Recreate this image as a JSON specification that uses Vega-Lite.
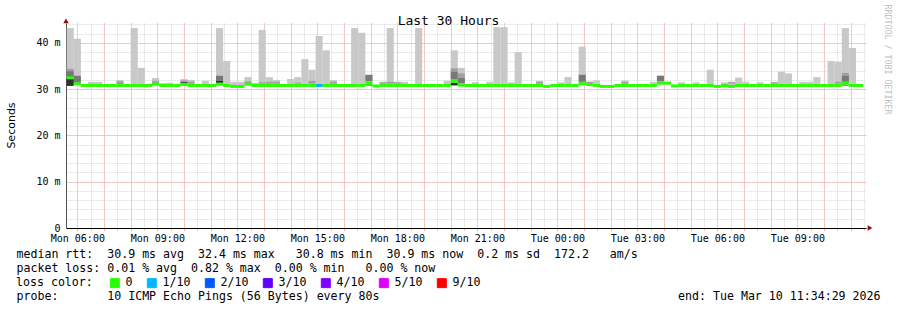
{
  "$schema": "https://vega.github.io/schema/vega-lite/v6.json",
  "width": 800,
  "height": 205,
  "autosize": "none",
  "padding": {"left": 66, "top": 23, "right": 31, "bottom": 82},
  "background": "#ffffff",
  "config": {"view": {"stroke": null}, "font": "DejaVu Sans Mono"},
  "datasets": {
    "bars": [
      {"t0":"2026-03-09T05:36:00Z","t1":"2026-03-09T05:52:00Z","med":32.45,"hi":43.2,"m0":33.9,"m1":34.4,"d0":32.6,"d1":33.9,"b0":30.7,"b1":32.3,"loss":"0"},
      {"t0":"2026-03-09T05:52:00Z","t1":"2026-03-09T06:08:00Z","med":31.15,"hi":40.9,"d0":31.4,"d1":32.9,"loss":"0"},
      {"t0":"2026-03-09T06:08:00Z","t1":"2026-03-09T06:24:00Z","med":30.8,"loss":"0"},
      {"t0":"2026-03-09T06:24:00Z","t1":"2026-03-09T06:40:00Z","med":30.8,"hi":31.6,"loss":"0"},
      {"t0":"2026-03-09T06:40:00Z","t1":"2026-03-09T06:56:00Z","med":30.8,"hi":31.6,"loss":"0"},
      {"t0":"2026-03-09T06:56:00Z","t1":"2026-03-09T07:12:00Z","med":30.8,"loss":"0"},
      {"t0":"2026-03-09T07:12:00Z","t1":"2026-03-09T07:28:00Z","med":30.8,"loss":"0"},
      {"t0":"2026-03-09T07:28:00Z","t1":"2026-03-09T07:44:00Z","med":30.8,"hi":32.0,"m0":31.1,"m1":31.7,"loss":"0"},
      {"t0":"2026-03-09T07:44:00Z","t1":"2026-03-09T08:00:00Z","med":30.8,"loss":"0"},
      {"t0":"2026-03-09T08:00:00Z","t1":"2026-03-09T08:16:00Z","med":30.8,"hi":43.2,"loss":"0"},
      {"t0":"2026-03-09T08:16:00Z","t1":"2026-03-09T08:32:00Z","med":30.8,"hi":34.6,"loss":"0"},
      {"t0":"2026-03-09T08:32:00Z","t1":"2026-03-09T08:48:00Z","med":30.8,"loss":"0"},
      {"t0":"2026-03-09T08:48:00Z","t1":"2026-03-09T09:04:00Z","med":31.1,"hi":32.4,"m0":31.4,"m1":31.8,"loss":"0"},
      {"t0":"2026-03-09T09:04:00Z","t1":"2026-03-09T09:20:00Z","med":30.8,"hi":31.3,"loss":"0"},
      {"t0":"2026-03-09T09:20:00Z","t1":"2026-03-09T09:36:00Z","med":30.8,"hi":31.4,"loss":"0"},
      {"t0":"2026-03-09T09:36:00Z","t1":"2026-03-09T09:52:00Z","med":30.8,"loss":"0"},
      {"t0":"2026-03-09T09:52:00Z","t1":"2026-03-09T10:08:00Z","med":31.0,"hi":32.2,"m0":31.5,"m1":31.9,"b0":31.3,"b1":31.5,"loss":"0"},
      {"t0":"2026-03-09T10:08:00Z","t1":"2026-03-09T10:24:00Z","med":30.8,"hi":32.0,"m0":31.2,"m1":31.6,"loss":"0"},
      {"t0":"2026-03-09T10:24:00Z","t1":"2026-03-09T10:40:00Z","med":30.8,"loss":"0"},
      {"t0":"2026-03-09T10:40:00Z","t1":"2026-03-09T10:56:00Z","med":30.8,"hi":31.8,"loss":"0"},
      {"t0":"2026-03-09T10:56:00Z","t1":"2026-03-09T11:12:00Z","med":30.8,"loss":"0"},
      {"t0":"2026-03-09T11:12:00Z","t1":"2026-03-09T11:28:00Z","med":31.1,"hi":43.2,"d0":31.8,"d1":32.9,"b0":31.3,"b1":31.8,"loss":"0"},
      {"t0":"2026-03-09T11:28:00Z","t1":"2026-03-09T11:44:00Z","med":30.8,"hi":36.1,"loss":"0"},
      {"t0":"2026-03-09T11:44:00Z","t1":"2026-03-09T12:00:00Z","med":30.6,"hi":31.6,"loss":"0"},
      {"t0":"2026-03-09T12:00:00Z","t1":"2026-03-09T12:16:00Z","med":30.6,"hi":31.6,"loss":"0"},
      {"t0":"2026-03-09T12:16:00Z","t1":"2026-03-09T12:32:00Z","med":31.1,"hi":32.6,"m0":31.4,"m1":31.7,"loss":"0"},
      {"t0":"2026-03-09T12:32:00Z","t1":"2026-03-09T12:48:00Z","med":30.8,"hi":31.35,"loss":"0"},
      {"t0":"2026-03-09T12:48:00Z","t1":"2026-03-09T13:04:00Z","med":30.8,"hi":42.8,"m0":31.2,"m1":31.5,"loss":"0"},
      {"t0":"2026-03-09T13:04:00Z","t1":"2026-03-09T13:20:00Z","med":30.8,"hi":32.6,"m0":31.2,"m1":31.6,"loss":"0"},
      {"t0":"2026-03-09T13:20:00Z","t1":"2026-03-09T13:36:00Z","med":30.8,"hi":32.0,"m0":31.2,"m1":31.6,"loss":"0"},
      {"t0":"2026-03-09T13:36:00Z","t1":"2026-03-09T13:52:00Z","med":30.8,"loss":"0"},
      {"t0":"2026-03-09T13:52:00Z","t1":"2026-03-09T14:08:00Z","med":30.8,"hi":32.2,"loss":"0"},
      {"t0":"2026-03-09T14:08:00Z","t1":"2026-03-09T14:24:00Z","med":30.8,"hi":32.6,"m0":31.2,"m1":31.4,"loss":"0"},
      {"t0":"2026-03-09T14:24:00Z","t1":"2026-03-09T14:40:00Z","med":30.8,"hi":36.5,"loss":"0"},
      {"t0":"2026-03-09T14:40:00Z","t1":"2026-03-09T14:56:00Z","med":30.8,"hi":34.2,"m0":31.2,"m1":31.8,"loss":"0"},
      {"t0":"2026-03-09T14:56:00Z","t1":"2026-03-09T15:12:00Z","med":30.8,"hi":41.5,"loss":"1/10"},
      {"t0":"2026-03-09T15:12:00Z","t1":"2026-03-09T15:28:00Z","med":30.8,"hi":38.4,"loss":"0"},
      {"t0":"2026-03-09T15:28:00Z","t1":"2026-03-09T15:44:00Z","med":30.8,"hi":32.0,"m0":31.2,"m1":31.6,"loss":"0"},
      {"t0":"2026-03-09T15:44:00Z","t1":"2026-03-09T16:00:00Z","med":30.8,"loss":"0"},
      {"t0":"2026-03-09T16:00:00Z","t1":"2026-03-09T16:16:00Z","med":30.8,"loss":"0"},
      {"t0":"2026-03-09T16:16:00Z","t1":"2026-03-09T16:32:00Z","med":30.8,"hi":43.2,"loss":"0"},
      {"t0":"2026-03-09T16:32:00Z","t1":"2026-03-09T16:48:00Z","med":30.8,"hi":42.2,"loss":"0"},
      {"t0":"2026-03-09T16:48:00Z","t1":"2026-03-09T17:04:00Z","med":31.25,"hi":33.1,"d0":31.7,"d1":33.1,"b0":30.8,"b1":31.0,"loss":"0"},
      {"t0":"2026-03-09T17:04:00Z","t1":"2026-03-09T17:20:00Z","med":30.7,"loss":"0"},
      {"t0":"2026-03-09T17:20:00Z","t1":"2026-03-09T17:36:00Z","med":30.8,"hi":31.6,"m0":31.2,"m1":31.5,"loss":"0"},
      {"t0":"2026-03-09T17:36:00Z","t1":"2026-03-09T17:52:00Z","med":30.8,"hi":43.2,"m0":31.2,"m1":31.6,"loss":"0"},
      {"t0":"2026-03-09T17:52:00Z","t1":"2026-03-09T18:08:00Z","med":30.8,"hi":31.6,"m0":31.2,"m1":31.5,"loss":"0"},
      {"t0":"2026-03-09T18:08:00Z","t1":"2026-03-09T18:24:00Z","med":30.8,"hi":31.6,"loss":"0"},
      {"t0":"2026-03-09T18:24:00Z","t1":"2026-03-09T18:40:00Z","med":30.8,"loss":"0"},
      {"t0":"2026-03-09T18:40:00Z","t1":"2026-03-09T18:56:00Z","med":30.8,"hi":43.2,"loss":"0"},
      {"t0":"2026-03-09T18:56:00Z","t1":"2026-03-09T19:12:00Z","med":30.8,"loss":"0"},
      {"t0":"2026-03-09T19:12:00Z","t1":"2026-03-09T19:28:00Z","med":30.8,"loss":"0"},
      {"t0":"2026-03-09T19:28:00Z","t1":"2026-03-09T19:44:00Z","med":30.8,"loss":"0"},
      {"t0":"2026-03-09T19:44:00Z","t1":"2026-03-09T20:00:00Z","med":30.8,"hi":31.8,"loss":"0"},
      {"t0":"2026-03-09T20:00:00Z","t1":"2026-03-09T20:16:00Z","med":31.7,"hi":38.4,"m0":33.8,"m1":34.5,"d0":32.1,"d1":33.8,"b0":30.8,"b1":31.4,"loss":"0"},
      {"t0":"2026-03-09T20:16:00Z","t1":"2026-03-09T20:32:00Z","med":30.9,"hi":34.6,"m0":32.4,"m1":33.4,"d0":31.3,"d1":32.4,"loss":"0"},
      {"t0":"2026-03-09T20:32:00Z","t1":"2026-03-09T20:48:00Z","med":30.8,"loss":"0"},
      {"t0":"2026-03-09T20:48:00Z","t1":"2026-03-09T21:04:00Z","med":30.8,"hi":31.5,"loss":"0"},
      {"t0":"2026-03-09T21:04:00Z","t1":"2026-03-09T21:20:00Z","med":30.8,"loss":"0"},
      {"t0":"2026-03-09T21:20:00Z","t1":"2026-03-09T21:36:00Z","med":30.8,"hi":31.6,"loss":"0"},
      {"t0":"2026-03-09T21:36:00Z","t1":"2026-03-09T21:52:00Z","med":30.8,"hi":43.4,"loss":"0"},
      {"t0":"2026-03-09T21:52:00Z","t1":"2026-03-09T22:08:00Z","med":30.8,"hi":43.4,"loss":"0"},
      {"t0":"2026-03-09T22:08:00Z","t1":"2026-03-09T22:24:00Z","med":30.8,"hi":31.5,"loss":"0"},
      {"t0":"2026-03-09T22:24:00Z","t1":"2026-03-09T22:40:00Z","med":30.8,"hi":38.0,"loss":"0"},
      {"t0":"2026-03-09T22:40:00Z","t1":"2026-03-09T22:56:00Z","med":30.8,"loss":"0"},
      {"t0":"2026-03-09T22:56:00Z","t1":"2026-03-09T23:12:00Z","med":30.8,"loss":"0"},
      {"t0":"2026-03-09T23:12:00Z","t1":"2026-03-09T23:28:00Z","med":30.8,"hi":31.8,"m0":31.2,"m1":31.6,"loss":"0"},
      {"t0":"2026-03-09T23:28:00Z","t1":"2026-03-09T23:44:00Z","med":30.6,"loss":"0"},
      {"t0":"2026-03-09T23:44:00Z","t1":"2026-03-10T00:00:00Z","med":30.8,"loss":"0"},
      {"t0":"2026-03-10T00:00:00Z","t1":"2026-03-10T00:16:00Z","med":30.8,"hi":31.5,"loss":"0"},
      {"t0":"2026-03-10T00:16:00Z","t1":"2026-03-10T00:32:00Z","med":30.8,"hi":32.6,"loss":"0"},
      {"t0":"2026-03-10T00:32:00Z","t1":"2026-03-10T00:48:00Z","med":30.8,"loss":"0"},
      {"t0":"2026-03-10T00:48:00Z","t1":"2026-03-10T01:04:00Z","med":31.2,"hi":39.2,"d0":31.6,"d1":33.1,"loss":"0"},
      {"t0":"2026-03-10T01:04:00Z","t1":"2026-03-10T01:20:00Z","med":31.0,"hi":31.6,"m0":31.3,"m1":31.6,"loss":"0"},
      {"t0":"2026-03-10T01:20:00Z","t1":"2026-03-10T01:36:00Z","med":30.8,"hi":31.9,"loss":"0"},
      {"t0":"2026-03-10T01:36:00Z","t1":"2026-03-10T01:52:00Z","med":30.6,"loss":"0"},
      {"t0":"2026-03-10T01:52:00Z","t1":"2026-03-10T02:08:00Z","med":30.6,"loss":"0"},
      {"t0":"2026-03-10T02:08:00Z","t1":"2026-03-10T02:24:00Z","med":30.8,"loss":"0"},
      {"t0":"2026-03-10T02:24:00Z","t1":"2026-03-10T02:40:00Z","med":30.8,"hi":31.9,"m0":31.2,"m1":31.6,"loss":"0"},
      {"t0":"2026-03-10T02:40:00Z","t1":"2026-03-10T02:56:00Z","med":30.8,"loss":"0"},
      {"t0":"2026-03-10T02:56:00Z","t1":"2026-03-10T03:12:00Z","med":30.8,"loss":"0"},
      {"t0":"2026-03-10T03:12:00Z","t1":"2026-03-10T03:28:00Z","med":30.8,"loss":"0"},
      {"t0":"2026-03-10T03:28:00Z","t1":"2026-03-10T03:44:00Z","med":30.8,"hi":31.6,"loss":"0"},
      {"t0":"2026-03-10T03:44:00Z","t1":"2026-03-10T04:00:00Z","med":31.3,"hi":32.9,"d0":31.7,"d1":32.9,"loss":"0"},
      {"t0":"2026-03-10T04:00:00Z","t1":"2026-03-10T04:16:00Z","med":31.3,"loss":"0"},
      {"t0":"2026-03-10T04:16:00Z","t1":"2026-03-10T04:32:00Z","med":30.7,"loss":"0"},
      {"t0":"2026-03-10T04:32:00Z","t1":"2026-03-10T04:48:00Z","med":30.8,"hi":31.5,"loss":"0"},
      {"t0":"2026-03-10T04:48:00Z","t1":"2026-03-10T05:04:00Z","med":30.8,"loss":"0"},
      {"t0":"2026-03-10T05:04:00Z","t1":"2026-03-10T05:20:00Z","med":30.8,"hi":31.5,"loss":"0"},
      {"t0":"2026-03-10T05:20:00Z","t1":"2026-03-10T05:36:00Z","med":30.8,"loss":"0"},
      {"t0":"2026-03-10T05:36:00Z","t1":"2026-03-10T05:52:00Z","med":30.8,"hi":34.2,"loss":"0"},
      {"t0":"2026-03-10T05:52:00Z","t1":"2026-03-10T06:08:00Z","med":30.6,"loss":"0"},
      {"t0":"2026-03-10T06:08:00Z","t1":"2026-03-10T06:24:00Z","med":30.8,"hi":31.5,"loss":"0"},
      {"t0":"2026-03-10T06:24:00Z","t1":"2026-03-10T06:40:00Z","med":30.6,"hi":31.6,"m0":31.2,"m1":31.5,"loss":"0"},
      {"t0":"2026-03-10T06:40:00Z","t1":"2026-03-10T06:56:00Z","med":30.8,"hi":32.5,"loss":"0"},
      {"t0":"2026-03-10T06:56:00Z","t1":"2026-03-10T07:12:00Z","med":30.8,"hi":31.6,"loss":"0"},
      {"t0":"2026-03-10T07:12:00Z","t1":"2026-03-10T07:28:00Z","med":30.8,"loss":"0"},
      {"t0":"2026-03-10T07:28:00Z","t1":"2026-03-10T07:44:00Z","med":30.8,"hi":31.5,"loss":"0"},
      {"t0":"2026-03-10T07:44:00Z","t1":"2026-03-10T08:00:00Z","med":30.8,"loss":"0"},
      {"t0":"2026-03-10T08:00:00Z","t1":"2026-03-10T08:16:00Z","med":30.8,"hi":31.5,"m0":31.2,"m1":31.5,"loss":"0"},
      {"t0":"2026-03-10T08:16:00Z","t1":"2026-03-10T08:32:00Z","med":30.8,"hi":33.8,"loss":"0"},
      {"t0":"2026-03-10T08:32:00Z","t1":"2026-03-10T08:48:00Z","med":30.8,"hi":33.4,"loss":"0"},
      {"t0":"2026-03-10T08:48:00Z","t1":"2026-03-10T09:04:00Z","med":30.8,"loss":"0"},
      {"t0":"2026-03-10T09:04:00Z","t1":"2026-03-10T09:20:00Z","med":30.8,"hi":31.6,"loss":"0"},
      {"t0":"2026-03-10T09:20:00Z","t1":"2026-03-10T09:36:00Z","med":30.8,"hi":31.6,"loss":"0"},
      {"t0":"2026-03-10T09:36:00Z","t1":"2026-03-10T09:52:00Z","med":30.8,"hi":32.6,"loss":"0"},
      {"t0":"2026-03-10T09:52:00Z","t1":"2026-03-10T10:08:00Z","med":30.8,"loss":"0"},
      {"t0":"2026-03-10T10:08:00Z","t1":"2026-03-10T10:24:00Z","med":30.8,"hi":36.1,"loss":"0"},
      {"t0":"2026-03-10T10:24:00Z","t1":"2026-03-10T10:40:00Z","med":30.8,"hi":35.9,"m0":31.2,"m1":31.6,"loss":"0"},
      {"t0":"2026-03-10T10:40:00Z","t1":"2026-03-10T10:56:00Z","med":31.3,"hi":43.2,"m0":32.9,"m1":33.5,"d0":31.6,"d1":32.9,"b0":30.8,"b1":31.0,"loss":"0"},
      {"t0":"2026-03-10T10:56:00Z","t1":"2026-03-10T11:12:00Z","med":30.8,"hi":38.9,"loss":"0"},
      {"t0":"2026-03-10T11:12:00Z","t1":"2026-03-10T11:28:00Z","med":30.8,"loss":"0"}
    ]
  },
  "resolve": {"axis": {"x": "independent", "y": "independent"}},
  "layer": [
    {
      "data": {"name": "bars"},
      "transform": [{"filter": "datum.hi != null"}],
      "mark": {"type": "bar", "color": "#c8c8c8"},
      "encoding": {
        "x": {"field": "t0", "type": "temporal",
          "scale": {"type": "utc", "domain": [1773034469000, 1773142469000]},
          "axis": {"orient": "bottom", "values": [1773036000000,1773037800000,1773039600000,1773041400000,1773043200000,1773045000000,1773046800000,1773048600000,1773050400000,1773052200000,1773054000000,1773055800000,1773057600000,1773059400000,1773061200000,1773063000000,1773064800000,1773066600000,1773068400000,1773070200000,1773072000000,1773073800000,1773075600000,1773077400000,1773079200000,1773081000000,1773082800000,1773084600000,1773086400000,1773088200000,1773090000000,1773091800000,1773093600000,1773095400000,1773097200000,1773099000000,1773100800000,1773102600000,1773104400000,1773106200000,1773108000000,1773109800000,1773111600000,1773113400000,1773115200000,1773117000000,1773118800000,1773120600000,1773122400000,1773124200000,1773126000000,1773127800000,1773129600000,1773131400000,1773133200000,1773135000000,1773136800000,1773138600000,1773140400000,1773142200000],
            "grid": true, "gridColor": "#d6d6d6", "gridDash": [1, 1], "gridOpacity": 1, "labels": false, "domain": false, "ticks": true, "tickSize": 2, "tickColor": "#ff9a9a",
            "title": "probe:\u00a0\u00a0\u00a0\u00a0\u00a0\u00a0\u00a010\u00a0ICMP\u00a0Echo\u00a0Pings\u00a0(56\u00a0Bytes)\u00a0every\u00a080s",
            "titleX": -50, "titleY": 71, "titleAlign": "left", "titleAnchor": "start", "titleBaseline": "alphabetic", "titleFont": "DejaVu Sans Mono", "titleFontSize": 11.6, "titleFontWeight": "normal", "titleColor": "#000000"}},
        "x2": {"field": "t1"},
        "y": {"field": "med", "type": "quantitative", "scale": {"domain": [0, 44.3], "nice": false, "zero": true},
          "axis": {"orient": "left", "values": [0,2,4,6,8,10,12,14,16,18,20,22,24,26,28,30,32,34,36,38,40,42,44], "grid": true, "gridColor": "#d6d6d6", "gridDash": [1, 1], "gridOpacity": 1, "labels": false, "ticks": false, "domain": false, "title": null}},
        "y2": {"field": "hi"}
      }
    },
    {
      "data": {"name": "bars"},
      "transform": [{"filter": "datum.m0 != null"}],
      "mark": {"type": "bar", "color": "#a0a0a0"},
      "encoding": {
        "x": {"field": "t0", "type": "temporal",
          "scale": {"type": "utc", "domain": [1773034469000, 1773142469000]},
          "axis": {"orient": "bottom", "values": [1773036000000,1773039600000,1773043200000,1773046800000,1773050400000,1773054000000,1773057600000,1773061200000,1773064800000,1773068400000,1773072000000,1773075600000,1773079200000,1773082800000,1773086400000,1773090000000,1773093600000,1773097200000,1773100800000,1773104400000,1773108000000,1773111600000,1773115200000,1773118800000,1773122400000,1773126000000,1773129600000,1773133200000,1773136800000,1773140400000],
            "grid": true, "gridColor": "#ffa0a0", "gridDash": [1, 1], "gridOpacity": 1, "labels": false, "domain": false, "ticks": true, "tickSize": 2, "tickColor": "#ff9a9a",
            "title": "end:\u00a0Tue\u00a0Mar\u00a010\u00a011:34:29\u00a02026",
            "titleX": 814, "titleY": 71, "titleAlign": "right", "titleAnchor": "end", "titleBaseline": "alphabetic", "titleFont": "DejaVu Sans Mono", "titleFontSize": 11.6, "titleFontWeight": "normal", "titleColor": "#000000"}},
        "x2": {"field": "t1"},
        "y": {"field": "m0", "type": "quantitative", "scale": {"domain": [0, 44.3], "nice": false, "zero": true},
          "axis": {"orient": "right", "values": [0, 10, 20, 30, 40], "grid": true, "gridColor": "#ffa0a0", "gridDash": [1, 1], "gridOpacity": 1, "labels": false, "ticks": false, "domain": false,
            "title": "RRDTOOL / TOBI OETIKER", "titleAngle": 90, "titleX": 20, "titleY": 36, "titleAlign": "center", "titleBaseline": "middle", "titleFont": "DejaVu Sans Mono", "titleFontSize": 8.3, "titleFontWeight": "normal", "titleColor": "#c0c0c0"}},
        "y2": {"field": "m1"}
      }
    },
    {
      "data": {"name": "bars"},
      "transform": [{"filter": "datum.d0 != null"}],
      "mark": {"type": "bar", "color": "#787878"},
      "encoding": {
        "x": {"field": "t0", "type": "temporal",
          "scale": {"type": "utc", "domain": [1773034469000, 1773142469000]},
          "axis": {"orient": "bottom", "values": [1773036000000,1773046800000,1773057600000,1773068400000,1773079200000,1773090000000,1773100800000,1773111600000,1773122400000,1773133200000], "format": "%a %H:%M", "grid": false, "ticks": false, "labelPadding": 5, "labelFont": "DejaVu Sans Mono", "labelFontSize": 10, "labelColor": "#000000", "domain": true, "domainColor": "#000000", "domainWidth": 1,
            "title": ["median\u00a0rtt:\u00a0\u00a030.9\u00a0ms\u00a0avg\u00a0\u00a032.4\u00a0ms\u00a0max\u00a0\u00a0\u00a030.8\u00a0ms\u00a0min\u00a0\u00a030.9\u00a0ms\u00a0now\u00a0\u00a00.2\u00a0ms\u00a0sd\u00a0\u00a0172.2\u00a0\u00a0\u00a0am/s", "packet\u00a0loss:\u00a00.01\u00a0%\u00a0avg\u00a0\u00a00.82\u00a0%\u00a0max\u00a0\u00a00.00\u00a0%\u00a0min\u00a0\u00a0\u00a00.00\u00a0%\u00a0now"],
            "titleX": -50, "titleY": 29, "titleLineHeight": 14, "titleAlign": "left", "titleAnchor": "start", "titleBaseline": "alphabetic", "titleFont": "DejaVu Sans Mono", "titleFontSize": 11.6, "titleFontWeight": "normal", "titleColor": "#000000"}},
        "x2": {"field": "t1"},
        "y": {"field": "d0", "type": "quantitative", "scale": {"domain": [0, 44.3], "nice": false, "zero": true},
          "axis": {"orient": "left", "values": [0, 10, 20, 30, 40], "labelExpr": "datum.value == 0 ? '0' : datum.value + ' m'", "grid": false, "ticks": false, "labelPadding": 6, "labelFont": "DejaVu Sans Mono", "labelFontSize": 10, "labelColor": "#000000", "domain": true, "domainColor": "#555555",
            "title": "Seconds", "titleAngle": 270, "titleX": -55, "titleY": 102, "titleAlign": "center", "titleBaseline": "middle", "titleFont": "DejaVu Sans", "titleFontSize": 11, "titleFontWeight": "normal", "titleColor": "#000000"}},
        "y2": {"field": "d1"}
      }
    },
    {
      "data": {"name": "bars"},
      "transform": [{"filter": "datum.b0 != null"}],
      "mark": {"type": "bar", "color": "#303030"},
      "encoding": {
        "x": {"field": "t0", "type": "temporal",
          "scale": {"type": "utc", "domain": [1773034469000, 1773142469000]},
          "axis": {"orient": "top", "grid": false, "labels": false, "ticks": false, "domain": false,
            "title": "Last 30 Hours", "titleX": 382, "titleY": 1, "titleAlign": "center", "titleBaseline": "alphabetic", "titleFont": "DejaVu Sans Mono", "titleFontSize": 13, "titleFontWeight": "normal", "titleColor": "#000000"}},
        "x2": {"field": "t1"},
        "y": {"field": "b0", "type": "quantitative", "scale": {"domain": [0, 44.3], "nice": false, "zero": true}, "axis": null},
        "y2": {"field": "b1"}
      }
    },
    {
      "data": {"name": "bars"},
      "mark": {"type": "rule", "strokeWidth": 3, "strokeCap": "butt"},
      "encoding": {
        "x": {"field": "t0", "type": "temporal",
          "scale": {"type": "utc", "domain": [1773034469000, 1773142469000]},
          "axis": null},
        "x2": {"field": "t1"},
        "y": {"field": "med", "type": "quantitative", "scale": {"domain": [0, 44.3], "nice": false, "zero": true}, "axis": null},
        "color": {"field": "loss", "type": "nominal",
          "scale": {"domain": ["0", "1/10", "2/10", "3/10", "4/10", "5/10", "9/10"], "range": ["#26ff00", "#00b8ff", "#0059ff", "#5e00ff", "#7e00ff", "#dd00ff", "#ff0000"]},
          "legend": {"orient": "none", "legendX": -50, "legendY": 254, "direction": "horizontal", "padding": 0,
            "title": "loss color:", "titleOrient": "left", "titlePadding": 16, "titleFont": "DejaVu Sans Mono", "titleFontSize": 11.6, "titleFontWeight": "normal", "titleColor": "#000000",
            "labelFont": "DejaVu Sans Mono", "labelFontSize": 11.6, "labelColor": "#000000", "labelOffset": 5, "columnPadding": 12,
            "symbolType": "square", "symbolSize": 81, "symbolStrokeColor": "#000000", "symbolStrokeWidth": 1, "symbolOpacity": 1,
            "encode": {"symbols": {"update": {"fill": {"scale": "color", "field": "value"}, "stroke": {"value": "#000000"}, "strokeWidth": {"value": 1}}}}}}
      }
    },
    {
      "data": {"values": [{}]},
      "mark": {"type": "point", "shape": "triangle-up", "filled": true, "color": "#8b1010", "size": 30, "opacity": 1},
      "encoding": {
        "x": {"datum": 1773034469000, "type": "temporal", "scale": {"type": "utc", "domain": [1773034469000, 1773142469000]}, "axis": null},
        "y": {"datum": 44.75, "type": "quantitative", "scale": {"domain": [0, 44.3], "nice": false, "zero": true}, "axis": null}
      }
    },
    {
      "data": {"values": [{}]},
      "mark": {"type": "point", "shape": "triangle-right", "filled": true, "color": "#8b1010", "size": 30, "opacity": 1},
      "encoding": {
        "x": {"datum": 1773143009000, "type": "temporal", "scale": {"type": "utc", "domain": [1773034469000, 1773142469000]}, "axis": null},
        "y": {"datum": 0, "type": "quantitative", "scale": {"domain": [0, 44.3], "nice": false, "zero": true}, "axis": null}
      }
    }
  ]
}
